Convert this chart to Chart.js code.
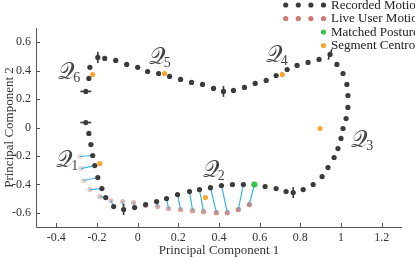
<!DOCTYPE html>
<html>
<head>
<meta charset="utf-8">
<script src="https://cdn.jsdelivr.net/npm/chart.js@4.4.0/dist/chart.umd.min.js"></script>
<style>
  body { margin: 0; background: #fff; }
  #wrap { width: 415px; height: 258px; }
</style>
</head>
<body>
<div id="wrap"><canvas id="pcaChart"></canvas></div>
<script>
// recorded motion, traced round the loop
const recX = [-0.255, -0.240, -0.230, -0.221, -0.211, -0.196, -0.176, -0.157, -0.118, -0.069,
  -0.015, 0.039, 0.093, 0.142, 0.196, 0.255, 0.304, 0.358, 0.412, 0.466,
  0.520, 0.574, 0.627, 0.681, 0.730, 0.765, 0.814, 0.863, 0.907, 0.936,
  0.966, 0.985, 1.000, 1.010, 1.025, 1.034, 1.034, 1.029, 1.010, 0.980,
  0.946, 0.892, 0.838, 0.784, 0.735, 0.681, 0.632, 0.578, 0.525, 0.471,
  0.422, 0.373, 0.319, 0.265, 0.211, 0.157, 0.103, 0.049, 0.000, -0.054,
  -0.108, -0.162, -0.196, -0.235, -0.240, -0.255];
const recY = [0.035, -0.042, -0.120, -0.197, -0.268, -0.352, -0.430, -0.493, -0.556, -0.577,
  -0.563, -0.542, -0.521, -0.500, -0.472, -0.451, -0.437, -0.423, -0.408, -0.401,
  -0.401, -0.401, -0.415, -0.430, -0.451, -0.458, -0.437, -0.401, -0.345, -0.282,
  -0.211, -0.148, -0.077, -0.007, 0.063, 0.141, 0.225, 0.303, 0.380, 0.444,
  0.514, 0.479, 0.458, 0.437, 0.408, 0.366, 0.331, 0.310, 0.282, 0.261,
  0.254, 0.275, 0.303, 0.317, 0.338, 0.359, 0.380, 0.394, 0.423, 0.444,
  0.472, 0.486, 0.493, 0.423, 0.345, 0.254];

// segment boundaries (index into recorded) and the angle of their tick
const boundaryIdx = [0, 9, 25, 40, 50, 62, 65];
const boundaryRot = [0, 90, 90, 110, 90, 90, 0];

// live user motion
const liveX = [-0.284, -0.279, -0.265, -0.235, -0.186, -0.132, -0.074, -0.020, 0.039, 0.098,
  0.152, 0.211, 0.270, 0.324, 0.387, 0.441, 0.495, 0.549];
const liveY = [-0.204, -0.289, -0.373, -0.437, -0.486, -0.514, -0.521, -0.528, -0.549, -0.556,
  -0.570, -0.577, -0.585, -0.592, -0.599, -0.599, -0.577, -0.542];
// recorded index each live sample is matched to
const matchIdx = [3, 4, 5, 6, 7, 8, 9, 10, 11, 12, 13, 14, 15, 16, 17, 18, 20, 21];

// matched posture
const matchedX = [0.574];
const matchedY = [-0.401];

// segment centroids Q1..Q6
const centroidX = [-0.186, 0.333, 0.897, 0.711, 0.132, -0.221];
const centroidY = [-0.254, -0.493, -0.007, 0.373, 0.380, 0.373];
const segNames = ['1', '2', '3', '4', '5', '6'];
const segLabelX = [-0.40, 0.32, 1.05, 0.63, 0.055, -0.39];
const segLabelY = [-0.275, -0.35, -0.14, 0.46, 0.45, 0.34];

const xTicks = [-0.4, -0.2, 0, 0.2, 0.4, 0.6, 0.8, 1, 1.2];
const yTicks = [-0.6, -0.4, -0.2, 0, 0.2, 0.4, 0.6];

const dark = '#3b3b3b';
const salmon = '#cd7a70';
const green = '#36c24a';
const orange = '#f6a731';
const cyan = '#3cb4de';
const axisGrey = '#555';
const serif = '"Liberation Serif", "DejaVu Serif", serif';

const pts = (xs, ys) => xs.map((x, i) => ({ x, y: ys[i] }));
const recPts = pts(recX, recY);
const livePts = pts(liveX, liveY);

// fade the live trail: older samples lighter
const liveColors = liveX.map((_, i) => {
  const a = 0.28 + 0.67 * i / (liveX.length - 1);
  return `rgba(205,122,112,${a.toFixed(2)})`;
});

const linkSets = matchIdx.map((r, i) => ({
  type: 'line',
  data: [livePts[i], recPts[r]],
  borderColor: cyan,
  borderWidth: 1.2,
  pointRadius: 0,
  showLine: true,
  order: 5
}));

// inside ticks, axis lines, Q labels and legend
const extras = {
  id: 'extras',
  afterDraw(chart) {
    const { ctx, chartArea: a, scales: { x, y } } = chart;
    ctx.save();
    ctx.strokeStyle = axisGrey;
    ctx.lineWidth = 1;
    ctx.beginPath();
    ctx.moveTo(a.left + 0.5, a.top);
    ctx.lineTo(a.left + 0.5, a.bottom + 0.5);
    ctx.lineTo(a.right, a.bottom + 0.5);
    xTicks.forEach(v => {
      const px = Math.round(x.getPixelForValue(v)) + 0.5;
      ctx.moveTo(px, a.bottom);
      ctx.lineTo(px, a.bottom - 4);
    });
    yTicks.forEach(v => {
      const py = Math.round(y.getPixelForValue(v)) + 0.5;
      ctx.moveTo(a.left, py);
      ctx.lineTo(a.left + 4, py);
    });
    ctx.stroke();

    // segment names
    ctx.fillStyle = '#444';
    ctx.textBaseline = 'alphabetic';
    segNames.forEach((n, i) => {
      const px = x.getPixelForValue(segLabelX[i]);
      const py = y.getPixelForValue(segLabelY[i]);
      ctx.font = `23px ${serif}`;
      ctx.fillText('\u{1D4AC}', px, py);
      const w = ctx.measureText('\u{1D4AC}').width;
      ctx.font = `14px ${serif}`;
      ctx.fillText(n, px + w - 2, py + 3);
    });

    // legend
    const rows = [
      { text: 'Recorded Motion', color: dark, n: 4 },
      { text: 'Live User Motion', color: salmon, n: 4 },
      { text: 'Matched Posture', color: green, n: 1 },
      { text: 'Segment Centroid', color: orange, n: 1 }
    ];
    ctx.font = `13px ${serif}`;
    ctx.textBaseline = 'middle';
    rows.forEach((r, i) => {
      const cy = 5 + i * 13.5;
      for (let k = 0; k < r.n; k++) {
        ctx.beginPath();
        ctx.fillStyle = r.color;
        ctx.arc(323.5 - k * 12.6, cy, 2.6, 0, Math.PI * 2);
        ctx.fill();
      }
      ctx.fillStyle = '#222';
      ctx.fillText(r.text, 331, cy + 0.5);
    });
    ctx.restore();
  }
};

const tickFmt = v => String(Number(v.toFixed(1)));

new Chart(document.getElementById('pcaChart'), {
  type: 'scatter',
  data: {
    datasets: [
      { data: pts(centroidX, centroidY), backgroundColor: orange, pointRadius: 2.6, order: 1 },
      { data: pts(matchedX, matchedY), backgroundColor: green, pointRadius: 3, order: 1 },
      {
        data: boundaryIdx.map(i => recPts[i]),
        pointStyle: 'line',
        pointRotation: boundaryRot,
        pointRadius: 5.5,
        borderColor: dark,
        borderWidth: 1.6,
        order: 2
      },
      { data: recPts, backgroundColor: dark, pointRadius: 2.6, order: 3 },
      ...linkSets,
      { data: livePts, backgroundColor: liveColors, pointRadius: 2.6, order: 6 }
    ]
  },
  options: {
    responsive: true,
    maintainAspectRatio: false,
    animation: false,
    events: [],
    layout: { padding: { top: 28, right: 13, left: 0, bottom: 0 } },
    plugins: { legend: { display: false }, tooltip: { enabled: false } },
    elements: { point: { borderWidth: 0 } },
    scales: {
      x: {
        type: 'linear',
        min: -0.5,
        max: 1.3,
        grid: { display: false, drawTicks: false },
        border: { display: false },
        afterBuildTicks: s => { s.ticks = xTicks.map(v => ({ value: v })); },
        ticks: { padding: 4, color: '#333', font: { family: serif, size: 12 },
          callback: tickFmt, maxRotation: 0, autoSkip: false },
        title: { display: true, text: 'Principal Component 1', color: '#333',
          font: { family: serif, size: 13 }, padding: { top: 0, bottom: 0 } },
        afterFit: s => { s.height = 31; }
      },
      y: {
        type: 'linear',
        min: -0.7,
        max: 0.7,
        grid: { display: false, drawTicks: false },
        border: { display: false },
        afterBuildTicks: s => { s.ticks = yTicks.map(v => ({ value: v })); },
        ticks: { padding: 5, color: '#333', font: { family: serif, size: 12 },
          callback: tickFmt, autoSkip: false },
        title: { display: true, text: 'Principal Component 2', color: '#333',
          font: { family: serif, size: 13 }, padding: { top: 2, bottom: 0 } },
        afterFit: s => { s.width = 36; }
      }
    }
  },
  plugins: [extras]
});
</script>
</body>
</html>
